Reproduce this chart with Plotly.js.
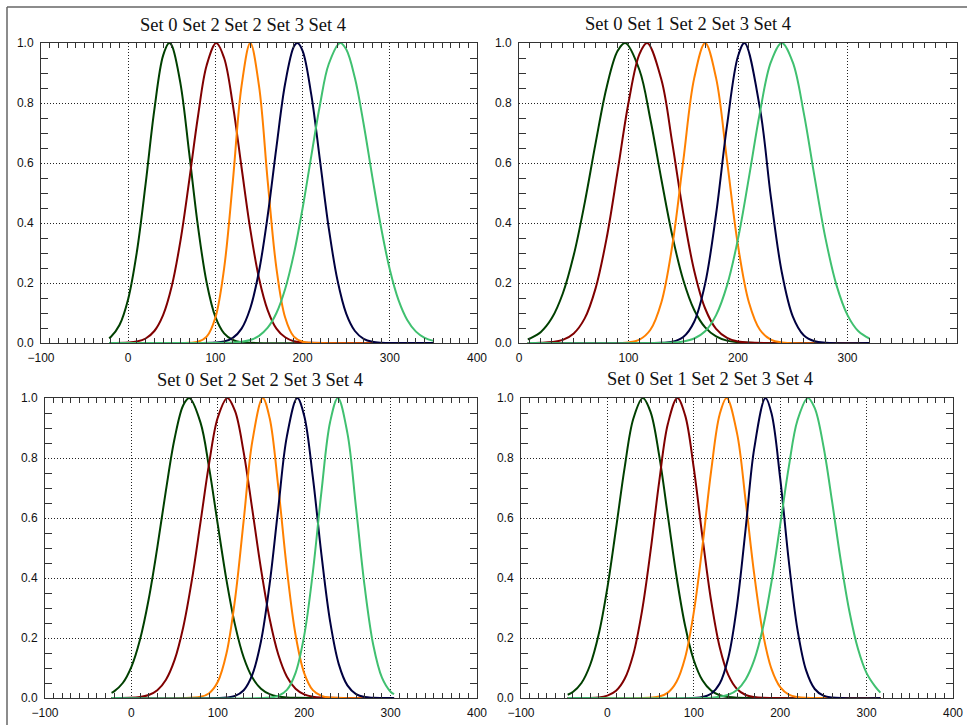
<!DOCTYPE html>
<html><head><meta charset="utf-8">
<script src="https://cdn.plot.ly/plotly-3.0.1.min.js"></script>
<style>html,body{margin:0;padding:0;background:#fff}#chart{width:967px;height:725px}</style>
</head><body><div id="chart"></div>
<script>
const TITLES = ["Set 0 Set 2 Set 2 Set 3 Set 4", "Set 0 Set 1 Set 2 Set 3 Set 4", "Set 0 Set 2 Set 2 Set 3 Set 4", "Set 0 Set 1 Set 2 Set 3 Set 4"];
const NAMES_TL = ["Set 0", "Set 2", "Set 2", "Set 3", "Set 4"];
const NAMES_TR = ["Set 0", "Set 1", "Set 2", "Set 3", "Set 4"];
const NAMES_BL = ["Set 0", "Set 2", "Set 2", "Set 3", "Set 4"];
const NAMES_BR = ["Set 0", "Set 1", "Set 2", "Set 3", "Set 4"];
const SERIES_COLORS = ["#004000", "#800000", "#ff8000", "#000040", "#40c070"];
const X_RANGES = [[-100, 400], [0, 400], [-100, 400], [-100, 400]];

// Top-left panel
const TL_X0 = [-22,-20,-10,0,10,20,30,40,47,50,60,70,80,90,100,110,120,130,140,350];
const TL_Y0 = [0.016,0.020,0.060,0.147,0.305,0.531,0.778,0.958,1,0.992,0.864,0.632,0.389,0.201,0.087,0.032,0.010,0.0025,0.0005,0];
const TL_X1 = [-22,0,10,20,30,40,50,60,70,80,90,101,110,120,130,140,150,160,170,180,190,200,210,350];
const TL_Y1 = [0,0.0015,0.005,0.015,0.040,0.093,0.190,0.342,0.542,0.755,0.926,1,0.950,0.794,0.585,0.379,0.216,0.109,0.048,0.019,0.006,0.002,0.0005,0];
const TL_X2 = [-22,70,80,90,100,110,120,130,140,150,160,170,180,190,200,210,350];
const TL_Y2 = [0,0.0005,0.004,0.021,0.085,0.249,0.539,0.857,1,0.857,0.539,0.249,0.085,0.021,0.004,0.0005,0];
const TL_X3 = [-22,100,110,120,130,140,150,160,170,180,190,194,200,210,220,230,240,250,260,270,280,290,350];
const TL_Y3 = [0,0.0015,0.005,0.017,0.048,0.116,0.239,0.425,0.653,0.865,0.988,1,0.974,0.827,0.607,0.383,0.209,0.098,0.040,0.014,0.004,0.001,0];
const TL_X4 = [-22,120,130,140,150,160,170,180,190,200,210,220,230,243,250,260,270,280,290,300,310,320,330,340,350];
const TL_Y4 = [0,0.0014,0.004,0.010,0.024,0.051,0.100,0.180,0.297,0.449,0.624,0.795,0.930,1,0.979,0.883,0.730,0.553,0.385,0.245,0.143,0.077,0.038,0.017,0.007];

// Top-right panel
const TR_X0 = [8,10,20,30,40,50,60,70,80,90,97,110,120,130,140,150,160,170,180,190,200,210,320];
const TR_Y0 = [0.012,0.015,0.037,0.083,0.165,0.293,0.467,0.667,0.852,0.973,1,0.910,0.745,0.546,0.358,0.210,0.110,0.052,0.022,0.008,0.003,0.0008,0];
const TR_X1 = [8,20,30,40,50,60,70,80,90,100,110,117,130,140,150,160,170,180,190,200,210,320];
const TR_Y1 = [0,0.0007,0.003,0.0105,0.032,0.082,0.183,0.349,0.571,0.801,0.963,1,0.878,0.666,0.433,0.241,0.115,0.047,0.017,0.005,0.0013,0];
const TR_X2 = [8,100,110,120,130,140,150,160,170,180,190,200,210,220,230,240,320];
const TR_Y2 = [0,0.002,0.011,0.044,0.135,0.325,0.607,0.883,1,0.883,0.607,0.325,0.135,0.044,0.011,0.002,0];
const TR_X3 = [8,130,140,150,160,170,180,190,200,206,220,230,240,250,260,270,280,320];
const TR_Y3 = [0,0.0007,0.004,0.020,0.071,0.198,0.430,0.726,0.956,1,0.783,0.487,0.236,0.089,0.026,0.006,0.001,0];
const TR_X4 = [8,140,150,160,170,180,190,200,210,220,230,240,250,260,270,280,290,300,310,320];
const TR_Y4 = [0,0.0013,0.005,0.015,0.039,0.093,0.192,0.347,0.552,0.768,0.936,1,0.936,0.768,0.552,0.347,0.192,0.093,0.039,0.015];

// Bottom-left panel
const BL_X0 = [-23,-20,-10,0,10,20,30,40,50,60,67,80,90,100,110,120,130,140,150,160,170,180,190,304];
const BL_Y0 = [0.017,0.022,0.050,0.104,0.195,0.329,0.502,0.693,0.865,0.976,1,0.918,0.766,0.578,0.394,0.243,0.135,0.068,0.031,0.013,0.005,0.0016,0.0005,0];
const BL_X1 = [-23,10,20,30,40,50,60,70,80,90,100,111,120,130,140,150,160,170,180,190,200,210,220,304];
const BL_Y1 = [0,0.0035,0.010,0.026,0.061,0.127,0.236,0.393,0.586,0.783,0.935,1,0.956,0.818,0.627,0.430,0.264,0.145,0.071,0.031,0.012,0.004,0.0014,0];
const BL_X2 = [-23,80,90,100,110,120,130,140,152,160,170,180,190,200,210,220,230,304];
const BL_Y2 = [0,0.004,0.016,0.054,0.148,0.330,0.593,0.856,1,0.933,0.704,0.428,0.210,0.083,0.026,0.007,0.0014,0];
const BL_X3 = [-23,110,120,130,140,150,160,170,180,192,200,210,220,230,240,250,260,270,280,304];
const BL_Y3 = [0,0.0017,0.007,0.026,0.078,0.189,0.380,0.633,0.873,1,0.941,0.736,0.477,0.255,0.113,0.042,0.013,0.003,0.0007,0];
const BL_X4 = [-23,160,170,180,190,200,210,220,230,239,250,260,270,280,290,300,304];
const BL_Y4 = [0,0.0016,0.007,0.027,0.084,0.208,0.419,0.689,0.920,1,0.883,0.634,0.371,0.176,0.068,0.021,0.013];

// Bottom-right panel
const BR_X0 = [-46,-40,-30,-20,-10,0,10,20,30,41,50,60,70,80,90,100,110,120,130,140,150,316];
const BR_Y0 = [0.011,0.020,0.050,0.110,0.213,0.368,0.565,0.769,0.931,1,0.953,0.807,0.607,0.405,0.240,0.126,0.059,0.025,0.009,0.003,0.0009,0];
const BR_X1 = [-46,-10,0,10,20,30,40,50,60,70,81,90,100,110,120,130,140,150,160,170,180,316];
const BR_Y1 = [0,0.002,0.008,0.024,0.064,0.146,0.289,0.491,0.722,0.914,1,0.942,0.766,0.537,0.325,0.169,0.076,0.030,0.010,0.003,0.0007,0];
const BR_X2 = [-46,60,70,80,90,100,110,120,130,138,150,160,170,180,190,200,210,220,230,316];
const BR_Y2 = [0,0.005,0.018,0.054,0.135,0.286,0.506,0.755,0.946,1,0.883,0.657,0.411,0.216,0.096,0.036,0.011,0.003,0.0006,0];
const BR_X3 = [-46,110,120,130,140,150,160,170,183,190,200,210,220,230,240,250,260,316];
const BR_Y3 = [0,0.003,0.014,0.048,0.135,0.308,0.564,0.833,1,0.948,0.732,0.455,0.228,0.092,0.030,0.008,0.0016,0];
const BR_X4 = [-46,120,130,140,150,160,170,180,190,200,210,220,232,240,250,260,270,280,290,300,310,316];
const BR_Y4 = [0,0.0012,0.004,0.011,0.027,0.062,0.127,0.234,0.388,0.577,0.771,0.926,1,0.966,0.840,0.656,0.460,0.290,0.164,0.083,0.038,0.018];

const W = 967, H = 725;
const panels = [
  {xs:[TL_X0,TL_X1,TL_X2,TL_X3,TL_X4], ys:[TL_Y0,TL_Y1,TL_Y2,TL_Y3,TL_Y4], names:NAMES_TL, px:[41,477], py:[43,343], tx:243, ty:25},
  {xs:[TR_X0,TR_X1,TR_X2,TR_X3,TR_X4], ys:[TR_Y0,TR_Y1,TR_Y2,TR_Y3,TR_Y4], names:NAMES_TR, px:[519,957], py:[43,343], tx:688, ty:24},
  {xs:[BL_X0,BL_X1,BL_X2,BL_X3,BL_X4], ys:[BL_Y0,BL_Y1,BL_Y2,BL_Y3,BL_Y4], names:NAMES_BL, px:[45,477], py:[398,698], tx:259.5, ty:380},
  {xs:[BR_X0,BR_X1,BR_X2,BR_X3,BR_X4], ys:[BR_Y0,BR_Y1,BR_Y2,BR_Y3,BR_Y4], names:NAMES_BR, px:[521,953], py:[398,698], tx:710, ty:379}
];

const tickFont = {family:'"Liberation Sans", Arial, sans-serif', size:12, color:'#111'};
const AX_COLOR = '#333';
function xAxis(p, i) {
  return {domain:[p.px[0]/W, p.px[1]/W], range:X_RANGES[i], anchor:(i===0?'y':'y'+(i+1)),
    showline:true, linecolor:AX_COLOR, linewidth:1, mirror:'ticks', ticks:'', dtick:100, tick0:0,
    ticklabelstandoff:4,
    showgrid:true, gridcolor:'#222', griddash:'1px,2px', gridwidth:1, zeroline:false, tickfont:tickFont,
    minor:{dtick:10, tick0:0, ticks:'inside', ticklen:5, tickcolor:AX_COLOR, tickwidth:1, showgrid:false},
    fixedrange:true};
}
function yAxis(p, i) {
  return {domain:[1-p.py[1]/H, 1-p.py[0]/H], range:[0,1], anchor:(i===0?'x':'x'+(i+1)),
    showline:true, linecolor:AX_COLOR, linewidth:1, mirror:'ticks', ticks:'', dtick:0.2, tick0:0, tickformat:'.1f',
    ticklabelstandoff:4,
    showgrid:true, gridcolor:'#222', griddash:'1px,2px', gridwidth:1, zeroline:false, tickfont:tickFont,
    minor:{dtick:0.05, tick0:0, ticks:'inside', ticklen:7, tickcolor:AX_COLOR, tickwidth:1, showgrid:false},
    fixedrange:true};
}

const data = [];
const layout = {width:W, height:H, margin:{l:0,r:0,t:0,b:0}, paper_bgcolor:'#fff', plot_bgcolor:'#fff',
  showlegend:false, annotations:[], shapes:[
    {type:'line', xref:'paper', yref:'paper', x0:7/W, x1:1, y0:1-7/H, y1:1-7/H, line:{color:'#666', width:1.5}},
    {type:'line', xref:'paper', yref:'paper', x0:7/W, x1:7/W, y0:1-7/H, y1:0, line:{color:'#666', width:1.5}}
  ]};

panels.forEach((p, i) => {
  const sfx = i===0 ? '' : String(i+1);
  for (let k = 0; k < 5; k++) {
    data.push({type:'scatter', mode:'lines', x:p.xs[k], y:p.ys[k], name:p.names[k],
      xaxis:'x'+sfx, yaxis:'y'+sfx, line:{color:SERIES_COLORS[k], width:2, shape:'spline', smoothing:1},
      hoverinfo:'skip'});
  }
  layout['xaxis'+sfx] = xAxis(p, i);
  layout['yaxis'+sfx] = yAxis(p, i);
  layout.annotations.push({text:TITLES[i], xref:'paper', yref:'paper', x:p.tx/W, y:1-p.ty/H,
    xanchor:'center', yanchor:'middle', showarrow:false,
    font:{family:'"Liberation Serif", "Times New Roman", serif', size:18.5, color:'#111'}});
});

Plotly.newPlot('chart', data, layout, {staticPlot:true, displayModeBar:false});
</script>
</body></html>
